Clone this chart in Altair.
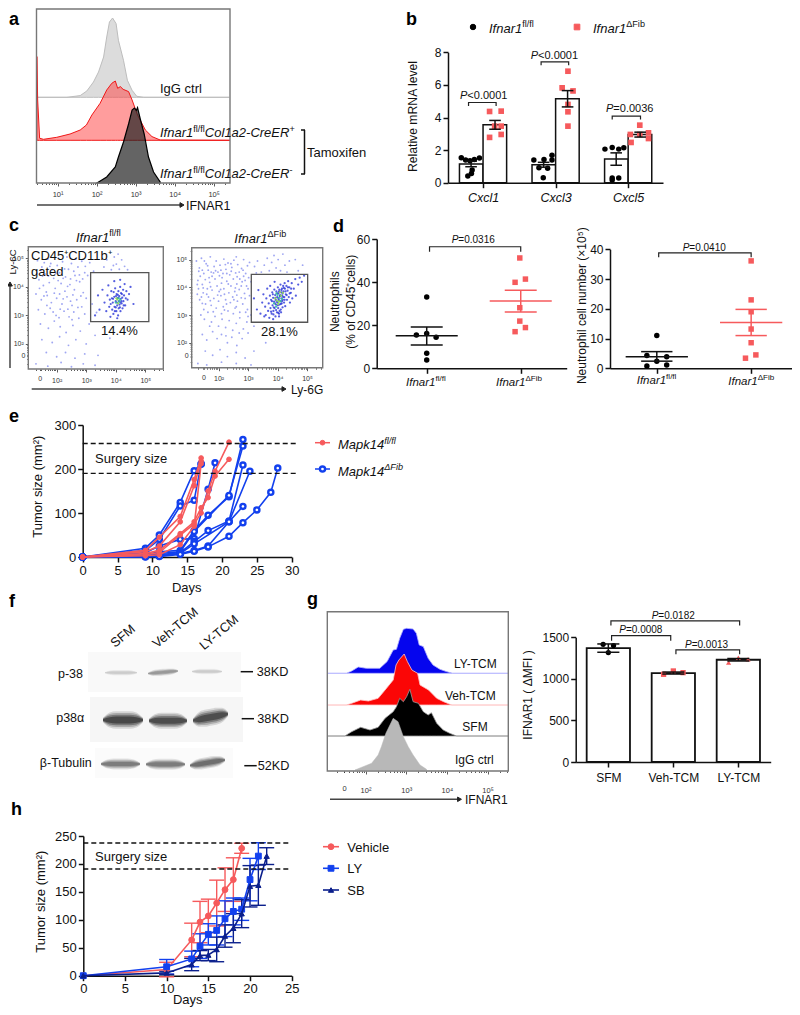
import math
import altair as alt
import pandas as pd

W, H = 784, 999
FONT = "Liberation Sans"
RED = "#f65a5c"
BLUE = "#1240ee"
NAVY = "#0b1f8c"

# ---------- panel a histograms (log10 intensity, height) ----------
A_GRAY_X = [0.46, 1.24, 1.58, 1.75, 1.92, 2.05, 2.18, 2.26, 2.33, 2.41, 2.50, 2.56, 2.69, 2.79, 2.91, 3.03, 3.21, 5.40]
A_GRAY_Y = [0, 0, 1.7, 6.3, 15.3, 25.3, 40.3, 60.3, 75.3, 79.3, 73.7, 57, 37, 17, 7, 1, 0, 0]
A_RED_X = [0.47, 0.49, 0.54, 0.64, 0.98, 1.32, 1.58, 1.74, 1.88, 2.09, 2.26, 2.39, 2.48, 2.54, 2.61, 2.68, 2.82, 2.91, 3.05, 3.25, 3.42, 3.63, 5.42]
A_RED_Y = [83.7, 40.3, 2, 1, 3, 6.3, 10.3, 15.3, 25.3, 37, 50.3, 57, 59.3, 52, 53.7, 51, 48.7, 40.3, 25.3, 10.3, 3.7, 0.3, 0]
A_DARK_X = [2.01, 2.26, 2.48, 2.56, 2.69, 2.82, 2.91, 2.97, 3.02, 3.05, 3.12, 3.22, 3.33, 3.46, 3.63]
A_DARK_Y = [0, 6, 16, 26, 41, 59, 73, 75, 72.7, 75.3, 64, 49, 26, 11, 1]

# ---------- panel b ----------
B_MEANS_FL = [1.15, 1.1, 1.45]
B_MEANS_FIB = [3.55, 5.15, 2.95]
B_ERR_FL = [0.17, 0.15, 0.38]
B_ERR_FIB = [0.27, 0.5, 0.15]
B_FL_X = [0.70, 0.76, 0.82, 0.88, 0.95, 0.85, 0.79, 0.84, 1.70, 1.84, 1.95, 1.95, 1.77, 1.89, 1.83, 2.68, 2.78, 2.87, 2.94, 2.78, 2.87, 2.78]
B_FL_Y = [1.53, 1.39, 1.35, 1.43, 1.51, 0.78, 0.41, 0.57, 1.39, 1.43, 1.69, 1.39, 0.92, 0.88, 0.31, 2.06, 2.16, 2.06, 2.14, 0.29, 0.29, 0.16]
B_FIB_X = [1.09, 1.25, 1.25, 1.16, 1.25, 1.09, 2.17, 2.09, 2.24, 2.17, 2.17, 2.17, 3.03, 3.16, 3.28, 3.28, 3.04, 3.16]
B_FIB_Y = [4.37, 4.39, 3.47, 3.47, 2.96, 2.78, 6.84, 5.82, 5.63, 4.80, 4.35, 3.47, 2.96, 3.53, 3.06, 2.71, 2.47, 2.96]

# ---------- panel c scatter (decades) ----------
C1_BG = [(1.35,4.92),(1.5,4.7),(1.62,4.45),(1.7,4.98),(1.85,4.6),(1.9,4.3),(2.02,4.75),(2.1,4.5),(2.2,4.88),(2.3,4.35),(2.4,4.62),(2.5,4.82),(2.62,4.4),(2.72,4.7),(2.85,4.9),(2.95,4.5),(1.4,4.25),(1.55,4.05),(1.75,4.15),(1.95,3.95),(2.15,4.12),(2.28,3.85),(2.45,4.08),(2.6,3.9),(2.78,4.18),(2.9,3.8),(3.05,4.4),(1.3,3.75),(1.48,3.55),(1.68,3.7),(1.82,3.45),(2.0,3.6),(2.18,3.4),(2.35,3.65),(2.52,3.35),(2.68,3.55),(2.85,3.3),(3.0,3.6),(1.38,3.2),(1.6,3.05),(1.78,3.25),(1.98,3.0),(2.25,3.15),(2.42,2.95),(2.58,3.12),(2.75,2.9),(2.95,3.05),(1.45,2.7),(1.72,2.55),(1.92,2.8),(2.12,2.6),(2.32,2.4),(2.55,2.65),(2.8,2.45),(3.1,2.7),(1.5,2.15),(1.85,2.05),(2.1,2.25),(2.4,1.95),(2.65,2.15),(3.0,2.0),(3.3,2.3),(1.65,1.7),(2.0,1.55),(2.3,1.7),(2.62,1.5),(2.95,1.65),(3.4,1.6),(1.3,1.3),(1.7,1.22),(2.15,1.35),(2.5,1.2),(2.9,1.3),(3.3,1.25),(3.8,2.2),(4.3,2.4),(3.6,4.7),(3.7,4.95),(3.85,4.6),(3.95,5.05),(4.02,4.8),(4.12,4.62),(4.2,4.95),(4.3,4.72),(4.08,5.15),(3.92,4.75),(4.4,4.6),(1.58,4.85),(1.8,4.82),(2.06,5.0),(2.35,5.05),(2.65,4.98),(3.12,4.85),(3.25,4.55),(1.42,3.95),(1.65,3.82),(2.1,3.75),(2.55,3.72),(2.72,3.28),(1.88,3.12),(2.38,3.22),(2.08,2.92),(3.2,3.4),(3.35,3.1),(1.52,4.38),(2.22,4.3),(2.58,4.55),(2.88,4.28),(1.47,4.58),(1.77,4.72),(1.97,4.48),(2.27,4.63),(2.47,4.28),(2.77,4.42),(2.97,4.72),(1.33,4.48),(1.72,4.38),(2.05,4.22),(2.37,4.02),(2.67,4.22),(1.57,3.68),(1.92,3.78),(2.22,3.58),(2.47,3.5),(2.82,3.68),(1.67,3.35),(2.12,3.22),(2.52,2.85)]
C1_GATE = [(3.55,3.9),(3.62,3.45),(3.68,3.15),(3.72,3.7),(3.78,3.3),(3.8,3.55),(3.82,2.95),(3.85,3.85),(3.88,3.2),(3.9,3.45),(3.92,3.05),(3.95,3.65),(3.96,3.3),(3.98,3.95),(4.0,3.5),(4.02,3.15),(4.03,3.75),(4.05,3.35),(4.06,3.6),(4.08,3.0),(4.09,3.85),(4.1,3.25),(4.11,3.5),(4.12,3.68),(4.13,3.38),(4.15,4.0),(4.16,3.15),(4.17,3.58),(4.18,3.78),(4.2,3.42),(4.22,3.62),(4.23,3.25),(4.25,3.9),(4.26,3.5),(4.28,3.7),(4.3,4.1),(4.32,3.35),(4.34,3.6),(4.36,3.85),(4.4,3.55),(4.45,3.75),(4.5,4.0),(3.45,3.2),(3.4,3.7),(3.3,3.0),(4.6,3.4),(4.15,4.25),(3.95,4.2),(4.05,2.9),(3.75,4.05),(3.87,3.6),(3.93,3.82),(3.97,3.15),(4.01,3.68),(4.04,3.45),(4.07,3.72),(4.14,3.28),(4.19,3.5),(4.21,3.75),(4.27,3.35),(3.83,3.4),(3.91,3.58),(4.0,3.28),(4.09,3.62),(4.16,3.45)]
C1_CORE = [(4.0,3.45),(4.05,3.55),(4.1,3.6),(4.08,3.42),(4.15,3.55),(4.02,3.6),(4.12,3.48)]
C2_BG = [(1.25,4.95),(1.35,4.7),(1.42,5.05),(1.5,4.5),(1.58,4.85),(1.65,4.62),(1.72,5.1),(1.78,4.4),(1.85,4.75),(1.92,4.95),(1.98,4.55),(2.05,4.8),(2.12,4.35),(2.18,5.02),(2.25,4.65),(2.32,4.88),(2.38,4.45),(2.45,4.72),(2.52,4.98),(2.58,4.52),(2.65,4.82),(2.72,4.3),(2.78,4.68),(2.85,5.0),(2.92,4.5),(2.98,4.78),(3.05,4.9),(1.3,4.25),(1.38,4.4),(1.45,4.1),(1.55,4.28),(1.62,3.95),(1.7,4.18),(1.78,3.9),(1.88,4.3),(1.95,4.05),(2.02,3.85),(2.1,4.15),(2.18,3.95),(2.28,4.22),(2.35,3.8),(2.42,4.05),(2.5,4.3),(2.55,3.85),(2.62,4.12),(2.7,3.92),(2.8,4.2),(2.88,3.78),(2.95,4.05),(3.02,4.35),(1.28,3.75),(1.36,3.55),(1.48,3.8),(1.56,3.4),(1.66,3.65),(1.75,3.35),(1.84,3.6),(1.92,3.25),(2.0,3.5),(2.08,3.7),(2.16,3.3),(2.24,3.55),(2.32,3.15),(2.4,3.45),(2.48,3.65),(2.56,3.25),(2.64,3.5),(2.72,3.1),(2.82,3.4),(2.9,3.6),(2.98,3.2),(3.05,3.7),(1.4,3.0),(1.52,2.85),(1.64,3.1),(1.76,2.75),(1.88,2.95),(2.0,2.6),(2.12,2.85),(2.24,2.55),(2.36,2.8),(2.48,2.45),(2.6,2.7),(2.72,2.9),(2.84,2.5),(2.96,2.75),(3.1,3.0),(1.45,2.3),(1.6,2.1),(1.8,2.4),(1.95,2.15),(2.1,2.3),(2.3,2.0),(2.45,2.2),(2.62,1.9),(2.8,2.15),(3.0,2.35),(3.2,2.6),(1.55,1.7),(1.8,1.55),(2.05,1.75),(2.3,1.5),(2.6,1.65),(2.9,1.45),(3.2,1.7),(3.6,2.0),(1.3,1.25),(1.6,1.2),(2.1,1.3),(2.6,1.25),(3.1,1.2),(3.45,4.55),(3.55,4.8),(3.65,5.05),(3.72,4.6),(3.8,4.9),(3.88,5.15),(3.95,4.7),(4.02,5.0),(4.1,4.6),(4.18,5.2),(4.25,4.8),(4.32,4.55),(4.4,4.95),(3.22,4.75),(3.32,4.95),(3.28,4.52),(1.52,4.95),(1.75,4.55),(2.08,4.62),(2.28,4.5),(2.6,5.1),(2.9,4.25),(1.32,3.95),(1.6,3.75),(2.2,3.75),(2.62,3.72),(3.0,3.95),(1.5,3.2),(2.1,3.05),(2.5,3.05),(3.0,2.95),(1.7,2.6),(2.25,2.25),(2.7,2.35),(4.7,4.6),(4.85,4.8),(4.6,5.0),(1.45,4.62),(1.9,4.6),(2.42,4.85),(2.7,4.55),(1.68,4.35),(2.15,4.5),(2.85,4.4),(3.1,4.2),(1.33,4.58),(1.63,4.78),(1.83,4.52),(2.03,4.42),(2.23,4.82),(2.43,4.58),(2.63,4.38),(2.83,4.62),(1.28,4.1),(1.48,3.98),(1.73,4.02),(2.07,3.92),(2.33,4.12),(2.57,3.98),(2.77,4.05),(1.42,3.65),(1.72,3.52),(1.97,3.72),(2.27,3.4),(2.52,3.55),(2.77,3.62),(1.45,3.42),(1.82,3.12),(2.2,3.18),(2.6,3.3),(2.92,3.1)]
C2_GATE = [(3.2,3.6),(3.3,3.2),(3.35,3.9),(3.42,3.05),(3.48,3.45),(3.52,3.75),(3.55,2.95),(3.58,3.3),(3.62,3.6),(3.65,3.95),(3.68,3.15),(3.7,3.42),(3.72,2.9),(3.74,3.7),(3.76,3.25),(3.78,3.55),(3.8,3.05),(3.82,3.82),(3.83,3.35),(3.85,3.62),(3.86,3.15),(3.88,3.48),(3.89,3.92),(3.9,3.25),(3.92,3.72),(3.93,2.95),(3.94,3.55),(3.95,3.38),(3.96,3.85),(3.98,3.1),(3.99,3.65),(4.0,3.45),(4.01,4.0),(4.02,3.25),(4.03,3.78),(4.04,3.55),(4.05,3.05),(4.06,3.92),(4.07,3.38),(4.08,3.68),(4.09,3.5),(4.1,4.1),(4.11,3.2),(4.12,3.82),(4.13,3.6),(4.14,3.42),(4.15,3.95),(4.16,3.7),(4.17,3.28),(4.18,3.55),(4.19,4.05),(4.2,3.85),(4.22,3.45),(4.23,3.65),(4.24,4.15),(4.25,3.95),(4.26,3.32),(4.28,3.75),(4.3,4.05),(4.32,3.55),(4.34,3.88),(4.36,4.22),(4.38,3.65),(4.4,4.0),(4.42,3.45),(4.45,3.8),(4.48,4.15),(4.5,3.6),(4.55,3.95),(4.6,4.3),(4.62,3.7),(4.7,4.1),(4.75,4.35),(4.82,4.2),(4.9,4.42),(3.75,4.05),(3.9,4.2),(3.6,3.0),(3.85,2.85),(4.05,2.95),(3.81,3.5),(3.84,3.75),(3.87,3.28),(3.91,3.42),(3.93,3.62),(3.97,3.48),(3.99,3.78),(4.01,3.35),(4.03,3.6),(4.05,3.85),(4.07,3.15),(4.09,3.72),(4.11,3.4),(4.13,3.9),(4.15,3.5),(4.17,3.78),(4.19,3.65),(4.21,3.98),(4.24,3.55),(4.27,3.85),(4.31,3.72),(4.35,4.0),(4.41,3.78),(4.46,3.95),(3.78,3.12),(3.86,3.02),(3.95,3.18),(4.02,3.08),(4.12,3.1)]
C2_CORE = [(3.88,3.42),(3.92,3.6),(3.95,3.3),(3.98,3.52),(4.0,3.72),(4.02,3.4),(4.05,3.62),(4.08,3.82),(4.1,3.5),(4.12,3.7),(4.15,3.58),(4.05,3.48),(3.96,3.78),(4.18,3.8)]

# ---------- panel d ----------
D1_FL_X = [1.0, 0.89, 1.0, 1.10, 1.0, 1.0]
D1_FL_Y = [33.1, 15.5, 16.2, 14.4, 7.0, 3.9]
D1_FIB_X = [1.99, 1.94, 2.05, 1.99, 1.99, 2.05, 1.94]
D1_FIB_Y = [51.2, 39.9, 41.4, 28.1, 21.9, 18.9, 17.0]
D2_FL_X = [1.0, 0.895, 1.105, 1.0, 0.895, 1.105]
D2_FL_Y = [11, 4.3, 3.9, 2.4, 0.8, 1.1]
D2_FIB_X = [2.0, 2.0, 2.0, 2.0, 2.0, 2.05, 1.94]
D2_FIB_Y = [36.1, 23, 19, 13.2, 8.6, 4.5, 3.4]

# ---------- panel e ----------
E_RED = [
    ([0, 9, 11, 14, 16, 17], [0, 15, 45, 92, 176, 225]),
    ([0, 9, 11, 14, 16, 17], [0, 12, 25, 80, 162, 218]),
    ([0, 9, 11, 14, 16, 17, 18, 19, 21], [0, 8, 15, 53, 80, 112, 135, 184, 222]),
    ([0, 9, 11, 14, 16, 17, 18, 19, 21], [0, 5, 10, 50, 75, 100, 150, 195, 261]),
    ([0, 9, 11, 14, 16, 17], [0, 3, 5, 28, 70, 212]),
]
E_BLUE = [
    ([0, 9, 11, 14, 16, 17], [0, 20, 50, 124, 196, 212]),
    ([0, 9, 11, 14, 16, 17], [0, 15, 40, 116, 129, 211]),
    ([0, 9, 11, 14, 16, 18, 19], [0, 10, 25, 40, 42, 154, 214]),
    ([0, 9, 11, 14, 16, 18, 21, 23], [0, 5, 12, 15, 60, 95, 137, 267]),
    ([0, 9, 11, 14, 16, 21, 23], [0, 3, 8, 12, 58, 140, 252]),
    ([0, 9, 11, 14, 16, 18, 21, 23], [0, 2, 5, 10, 35, 60, 82, 209]),
    ([0, 9, 11, 14, 16, 21, 24], [0, 1, 3, 8, 30, 80, 195]),
    ([0, 9, 11, 14, 16, 18, 21, 23], [0, 1, 2, 8, 15, 25, 80, 115]),
    ([0, 9, 11, 14, 16, 18, 21, 23, 25, 27, 28], [0, 0, 1, 6, 13, 23, 47, 78, 107, 147, 202]),
]

# ---------- panel g ----------
G_BLUE_X = [1.06, 1.53, 1.66, 1.82, 2.02, 2.35, 2.53, 2.68, 2.76, 2.84, 2.93, 3.01, 3.17, 3.25, 3.32, 3.42, 3.54, 3.66, 3.83, 3.99, 4.14, 5.51]
G_BLUE_Y = [0, 0, 2.3, 6.3, 5, 5, 11.7, 23.3, 24, 35, 44, 45, 44.3, 40, 28.3, 26.7, 15, 8.3, 4, 1.7, 0, 0]
G_RED_X = [1.06, 1.53, 1.70, 1.88, 2.07, 2.31, 2.48, 2.68, 2.75, 2.82, 2.95, 3.03, 3.14, 3.28, 3.34, 3.55, 3.75, 3.92, 4.12, 5.51]
G_RED_Y = [0, 0, 2.3, 5, 4, 6.7, 15, 25, 40, 45, 51, 43.3, 35, 31.7, 20, 15, 6.7, 3.3, 0, 0]
G_BLACK_X = [1.06, 1.49, 1.66, 1.88, 2.11, 2.31, 2.48, 2.68, 2.76, 2.84, 2.93, 3.01, 3.09, 3.17, 3.30, 3.42, 3.54, 3.62, 3.75, 3.91, 4.07, 4.24, 5.51]
G_BLACK_Y = [0, 0, 4.3, 8.7, 6, 8.7, 17.7, 24.3, 29.3, 37.7, 34.3, 39.3, 46.7, 34.3, 32.7, 24.3, 21, 23.3, 12.7, 6, 2.7, 0, 0]
G_GRAY_X = [1.74, 1.94, 2.15, 2.31, 2.39, 2.50, 2.68, 2.80, 2.93, 3.05, 3.17, 3.34, 3.50]
G_GRAY_Y = [0, 3.3, 6.7, 15, 23.3, 36.7, 51.7, 48.3, 33.3, 23.3, 15, 5, 0.7]
G_BAR = [1370, 1070, 1230]
G_ERR = [50, 12, 15]
G_SFM_X, G_SFM_Y = [0.92, 1.08, 1.0], [1416, 1400, 1316]
G_VEH_X, G_VEH_Y = [1.85, 2.0, 2.15], [1055, 1095, 1075]
G_LY_X, G_LY_Y = [2.85, 3.0, 3.15], [1195, 1255, 1235]

# ---------- panel h ----------
H_VEH_D = [0, 10, 13, 14, 15, 16, 17, 18, 19]
H_VEH_V = [0, 11, 64, 96, 107, 130, 154, 172, 228]
H_VEH_E = [0, 13, 30, 37, 30, 41, 39, 39, 9]
H_LY_D = [0, 10, 13, 14, 15, 16, 17, 18, 19, 20, 21]
H_LY_V = [0, 16, 30, 53, 74, 81, 102, 115, 119, 172, 214]
H_LY_E = [0, 13, 14, 22, 19, 26, 32, 24, 20, 38, 24]
H_SB_D = [0, 10, 13, 14, 15, 16, 17, 18, 19, 20, 21, 22]
H_SB_V = [0, 5, 20, 36, 37, 47, 71, 85, 111, 160, 162, 214]
H_SB_E = [0, 3, 11, 9, 10, 22, 20, 26, 25, 37, 36, 15]

layers = []
ONE = pd.DataFrame([{"k": 0}])
CW = {" ": .278, "I": .278, "f": .278, "n": .556, "a": .556, "r": .333, "l": .222, "/": .278, "1": .556, "C": .722, "o": .556,
      "2": .556, "-": .333, "e": .556, "E": .667, "R": .722, "+": .584, "M": .833, "p": .556, "k": .5, "4": .556, "P": .667,
      "<": .584, "=": .584, "0": .556, ".": .278, "i": .222, "b": .556, "D": .722, "F": .611, "Δ": .612}


class P:
    def __init__(s, xdom, xpx, ydom, ypx):
        s.xdom, s.xpx, s.ydom, s.ypx = list(xdom), xpx, list(ydom), ypx


def X(p, f, axis=None):
    return alt.X(f, type="quantitative", title=None, axis=axis,
                 scale=alt.Scale(domain=p.xdom, range=[p.xpx[0] - 8, p.xpx[1] - 8], nice=False, zero=False))


def Y(p, f, axis=None):
    return alt.Y(f, type="quantitative", title=None, axis=axis,
                 scale=alt.Scale(domain=p.ydom, range=[p.ypx[0] - 8, p.ypx[1] - 8], nice=False, zero=False))


def txt(x, y, s, size=12, angle=0, align="left", baseline="alphabetic", style="normal", weight="normal", color="#111"):
    kw = {"angle": angle} if angle else {}
    layers.append(alt.Chart(ONE).mark_text(text=s, font=FONT, fontSize=size, align=align, baseline=baseline,
                                           fontStyle=style, fontWeight=weight, color=color, **kw)
                  .encode(x=alt.value(x - 8), y=alt.value(y - 8)))


def rich(x, y, segs, size=13):
    """segs: (text, kind) with kind n, i, sn (superscript), si (superscript italic)"""
    for s, kind in segs:
        sup = kind.startswith("s")
        fs = size * 0.7 if sup else size
        txt(x, y - (0.42 * size if sup else 0), s, size=fs, style="italic" if kind.endswith("i") else "normal")
        x += sum(CW.get(c, .556) for c in s) * fs


def pval(x, y, rest, size=10):
    rich(x, y, [("P", "i"), (rest, "n")], size)


def hrule(x0, x1, y, color="#111", w=1.5, dash=None):
    kw = {"strokeDash": dash} if dash else {}
    layers.append(alt.Chart(ONE).mark_rule(color=color, strokeWidth=w, **kw)
                  .encode(x=alt.value(x0 - 8), x2=alt.value(x1 - 8), y=alt.value(y - 8)))


def vrule(x, y0, y1, color="#111", w=1.5):
    layers.append(alt.Chart(ONE).mark_rule(color=color, strokeWidth=w)
                  .encode(x=alt.value(x - 8), y=alt.value(y0 - 8), y2=alt.value(y1 - 8)))


def glyph(x, y, shape, size, fill, stroke=None, sw=1.0, angle=0):
    kw = {"angle": angle} if angle else {}
    layers.append(alt.Chart(ONE).mark_point(shape=shape, size=size, filled=True, fill=fill, stroke=stroke or fill,
                                            strokeWidth=sw, opacity=1, **kw)
                  .encode(x=alt.value(x - 8), y=alt.value(y - 8)))


def axes(p, xa, ya):
    df = pd.DataFrame({"x": [p.xdom[0]], "y": [p.ydom[0]]})
    layers.append(alt.Chart(df).mark_point(opacity=0).encode(x=X(p, "x", xa), y=Y(p, "y", ya)))


def std_x(p, values, expr=None, size=12, style="normal", labels=True, tick=5, pad=2):
    kw = dict(orient="bottom", values=values, domainColor="#111", domainWidth=1.5, tickColor="#111", tickWidth=1.5, tickSize=tick,
              labelFontSize=size, labelFont=FONT, labelColor="#111", labelFontStyle=style, labelPadding=pad,
              labels=labels, grid=False, labelOverlap=False, labelFlush=False, offset=(p.ypx[0] - 8) - H, format="d")
    if expr:
        kw["labelExpr"] = expr
    return alt.Axis(**kw)


def std_y(p, values, size=12, tick=5, pad=2):
    return alt.Axis(orient="left", values=values, domainColor="#111", domainWidth=1.5, tickColor="#111", tickWidth=1.5, tickSize=tick,
                    labelFontSize=size, labelFont=FONT, labelColor="#111", labelPadding=pad, grid=False,
                    labelOverlap=False, labelFlush=False, offset=-(p.xpx[0] - 8), format="d")


SUP = {1: "10¹", 2: "10²", 3: "10³", 4: "10⁴", 5: "10⁵"}


def flow_vals(p_dom, decades, zero=None):
    vals = []
    for d in range(0, 7):
        for k in range(1, 10):
            v = round(d + math.log10(k), 3)
            if p_dom[0] <= v <= p_dom[1]:
                vals.append(v)
    if zero is not None:
        vals.append(zero)
    return vals


def flow_axis(p, horizontal, decades, zero=None, size=7.5, pad=3):
    dom = p.xdom if horizontal else p.ydom
    expr = "''"
    for d in decades:
        expr = f"datum.value=={d}?'{SUP[d]}':" + expr
    if zero is not None:
        expr = f"datum.value=={zero}?'0':" + expr
    kw = dict(orient="bottom" if horizontal else "left", values=flow_vals(dom, decades, zero), domain=False, tickColor="#333", tickWidth=0.8,
              tickSize={"condition": {"test": "datum.value==round(datum.value)", "value": 3}, "value": 1.5},
              labelFontSize=size, labelFont=FONT, labelColor="#333", labelPadding=pad, grid=False,
              labelOverlap=False, labelFlush=False, labelExpr=expr,
              offset=((p.ypx[0] - 8) - H) if horizontal else -(p.xpx[0] - 8))
    return alt.Axis(**kw)


def frame(p, color="#777", w=1.4):
    df = pd.DataFrame({"a": [p.xdom[0]], "b": [p.xdom[1]], "c": [p.ydom[0]], "d": [p.ydom[1]]})
    layers.append(alt.Chart(df).mark_rect(fill="transparent", stroke=color, strokeWidth=w)
                  .encode(x=X(p, "a"), x2="b", y=Y(p, "c"), y2="d"))


def box(p, x0, x1, y0, y1, color="#555", w=1.2, fill="transparent"):
    df = pd.DataFrame({"a": [x0], "b": [x1], "c": [y0], "d": [y1]})
    layers.append(alt.Chart(df).mark_rect(fill=fill, stroke=color, strokeWidth=w)
                  .encode(x=X(p, "a"), x2="b", y=Y(p, "c"), y2="d"))


def hist(p, xs, ys, base, fill, stroke, opacity=1.0, sw=1.0):
    df = pd.DataFrame({"x": xs, "t": [base + v for v in ys], "b": [base] * len(xs)})
    layers.append(alt.Chart(df).mark_area(color=fill, fillOpacity=opacity, stroke=stroke, strokeWidth=sw)
                  .encode(x=X(p, "x"), y=Y(p, "t"), y2="b"))


def pts(p, xs, ys, shape, size, color, opacity=1.0):
    df = pd.DataFrame({"x": xs, "y": ys})
    layers.append(alt.Chart(df).mark_point(shape=shape, size=size, filled=True, color=color, opacity=opacity)
                  .encode(x=X(p, "x"), y=Y(p, "y")))


def seg(p, x0, x1, y0, y1, color="#111", w=1.5, dash=None):
    df = pd.DataFrame({"a": [x0], "b": [x1], "c": [y0], "d": [y1]})
    kw = {"strokeDash": dash} if dash else {}
    layers.append(alt.Chart(df).mark_rule(color=color, strokeWidth=w, **kw)
                  .encode(x=X(p, "a"), x2="b", y=Y(p, "c"), y2="d"))


def bracket(p, x0, x1, lo, hi, lo2=None):
    df = pd.DataFrame({"x": [x0, x0, x1, x1], "y": [lo, hi, hi, lo if lo2 is None else lo2], "i": [0, 1, 2, 3]})
    layers.append(alt.Chart(df).mark_line(color="#222", strokeWidth=1.2)
                  .encode(x=X(p, "x"), y=Y(p, "y"), order="i"))


def err(p, x, lo, hi, half, color="#111", w=1.5):
    seg(p, x, x, lo, hi, color, w)
    seg(p, x - half, x + half, lo, lo, color, w)
    seg(p, x - half, x + half, hi, hi, color, w)


def bar(p, x0, x1, v, w=1.5):
    box(p, x0, x1, 0, v, color="#111", w=w, fill="white")


def series(p, xs, ys, color, w, shape, size, fill=None, sw=1.0):
    df = pd.DataFrame({"x": xs, "y": ys})
    layers.append(alt.Chart(df).mark_line(color=color, strokeWidth=w).encode(x=X(p, "x"), y=Y(p, "y")))
    layers.append(alt.Chart(df).mark_point(shape=shape, size=size, filled=True, fill=fill or color, stroke=color,
                                           strokeWidth=sw, opacity=1).encode(x=X(p, "x"), y=Y(p, "y")))


# ================= panel letters =================
for (lx, ly, s) in [(9, 25, "a"), (406, 25, "b"), (9, 231, "c"), (333, 231.7, "d"), (9, 422, "e"), (9, 607, "f"), (307, 605, "g"), (11, 815, "h")]:
    txt(lx, ly, s, size=18, weight="bold", color="#000")

# ================= a =================
pa = P((0.46, 5.42), (36.5, 230), (0, 174), (183, 9))
axes(pa, flow_axis(pa, True, [1, 2, 3, 4, 5], size=7.5, pad=4), None)
hist(pa, A_GRAY_X, A_GRAY_Y, 85.7, "#dcdcdc", "#bdbdbd")
hist(pa, A_RED_X, A_RED_Y, 42.7, "#ff3b3b", "#f01818", opacity=0.5)
hist(pa, A_DARK_X, A_DARK_Y, 0, "#222222", "#000000", opacity=0.7, sw=1.2)
frame(pa)
txt(160, 93, "IgG ctrl", 13)
rich(160, 137, [("Ifnar1", "i"), ("fl/fl", "sn"), ("Col1a2-CreER", "i"), ("+", "sn")], 13)
rich(160, 178, [("Ifnar1", "i"), ("fl/fl", "sn"), ("Col1a2-CreER", "i"), ("-", "sn")], 13)
hrule(301, 305, 130)
hrule(301, 305, 174)
vrule(304.5, 130, 174)
txt(307, 157, "Tamoxifen", 13)
hrule(37, 181, 205, color="#444")
glyph(182, 205, "triangle-right", 22, "#222")
txt(186, 209.5, "IFNAR1", 12.5)

# ================= b =================
pb = P((0.517, 3.48), (448, 663), (0, 8), (182.7, 52.3))
axes(pb, std_x(pb, [1, 2, 3], "['','Cxcl1','Cxcl3','Cxcl5'][datum.value]", size=12.5, style="italic", pad=4), std_y(pb, [0, 2, 4, 6, 8]))
for i in range(3):
    c = i + 1
    bar(pb, c - 0.325, c, B_MEANS_FL[i])
    bar(pb, c, c + 0.325, B_MEANS_FIB[i])
pts(pb, B_FL_X, B_FL_Y, "circle", 30, "#000")
pts(pb, B_FIB_X, B_FIB_Y, "square", 32, RED)
for i in range(3):
    c = i + 1
    err(pb, c - 0.165, B_MEANS_FL[i] - B_ERR_FL[i], B_MEANS_FL[i] + B_ERR_FL[i], 0.08)
    err(pb, c + 0.165, B_MEANS_FIB[i] - B_ERR_FIB[i], B_MEANS_FIB[i] + B_ERR_FIB[i], 0.08)
bracket(pb, 0.80, 1.18, 4.71, 4.92)
bracket(pb, 1.80, 2.18, 7.20, 7.41)
bracket(pb, 2.78, 3.17, 3.88, 4.08)
pval(460, 99, "<0.0001", 11)
pval(530.7, 59, "<0.0001", 11)
pval(606, 112.3, "=0.0036", 11)
glyph(473, 27, "circle", 30, "#000")
glyph(577, 27, "square", 32, RED)
rich(489, 32.7, [("Ifnar1", "i"), ("fl/fl", "sn")], 13)
rich(593, 32.7, [("Ifnar1", "i"), ("ΔFib", "sn")], 13)
txt(413, 116.5, "Relative mRNA level", 12.2, angle=270, align="center", baseline="middle")

# ================= c =================
pc1 = P((1.04, 5.61), (28.3, 163.3), (1.12, 5.41), (369, 246.7))
pc2 = P((1.09, 5.53), (191.7, 322.7), (1.10, 5.43), (367.7, 247.7))
for p, bg, gate, core, zx, zy, gb in [
    (pc1, C1_BG, C1_GATE, C1_CORE, 1.43, 1.58, (3.15, 5.12, 2.78, 4.50)),
    (pc2, C2_BG, C2_GATE, C2_CORE, 1.49, 1.53, (3.11, 5.02, 2.74, 4.47)),
]:
    axes(p, flow_axis(p, True, [2, 3, 4, 5], zx, size=7, pad=4), flow_axis(p, False, [2, 3, 4, 5], zy, size=7, pad=2))
    pts(p, [a for a, b in bg], [b for a, b in bg], "circle", 3.5, "#7f88ee", 0.75)
    pts(p, [a for a, b in gate], [b for a, b in gate], "circle", 5, "#2a36d8", 0.8)
    pts(p, [a for a, b in core[::2]], [b for a, b in core[::2]], "circle", 5, "#36c49a", 0.9)
    pts(p, [a for a, b in core[1::2]], [b for a, b in core[1::2]], "circle", 5, "#8fdc50", 0.9)
    frame(p)
    box(p, gb[0], gb[1], gb[2], gb[3], color="#555", w=1.3)
rich(76, 241.7, [("Ifnar1", "i"), ("fl/fl", "sn")], 13)
rich(234.3, 242.7, [("Ifnar1", "i"), ("ΔFib", "sn")], 13)
txt(31, 260, "CD45⁺CD11b⁺", 13)
txt(31, 275.7, "gated", 13)
txt(101, 335, "14.4%", 13)
txt(261, 336, "28.1%", 13)
vrule(10, 368, 285, color="#444")
glyph(10, 284, "triangle-up", 22, "#222")
txt(13, 262, "Ly-6C", 9.5, angle=270, align="center", baseline="middle")
hrule(31.7, 283, 389, color="#444")
glyph(284, 389, "triangle-right", 22, "#222")
txt(291, 394, "Ly-6G", 12)

# ================= d =================
pd1 = P((0.468, 2.489), (376.7, 566.7), (0, 60), (368.3, 239))
axes(pd1, std_x(pd1, [1, 2], labels=False), std_y(pd1, [0, 20, 40, 60]))
pts(pd1, D1_FL_X, D1_FL_Y, "circle", 30, "#000")
pts(pd1, D1_FIB_X, D1_FIB_Y, "square", 30, RED)
seg(pd1, 0.67, 1.33, 15.1, 15.1)
err(pd1, 1, 10.8, 19.2, 0.17)
seg(pd1, 1.67, 2.33, 31.2, 31.2, RED)
err(pd1, 2, 26.1, 36.2, 0.17, RED)
bracket(pd1, 1.03, 2, 54.1, 56.4)
pval(451.7, 243.3, "=0.0316", 10)
rich(406, 386, [("Ifnar1", "i"), ("fl/fl", "sn")], 11.5)
rich(496, 385.5, [("Ifnar1", "i"), ("ΔFib", "sn")], 11.5)
txt(335, 301.7, "Neutrophils", 12, angle=270, align="center", baseline="middle")
txt(351, 301.7, "(% of CD45⁺cells)", 12, angle=270, align="center", baseline="middle")

pd2 = P((0.504, 2.433), (610, 792), (0, 40), (368.3, 249.3))
axes(pd2, std_x(pd2, [1, 2], labels=False), std_y(pd2, [0, 10, 20, 30, 40]))
pts(pd2, D2_FL_X, D2_FL_Y, "circle", 30, "#000")
pts(pd2, D2_FIB_X, D2_FIB_Y, "square", 30, RED)
seg(pd2, 0.67, 1.33, 3.9, 3.9)
err(pd2, 1, 2.4, 5.6, 0.166)
seg(pd2, 1.67, 2.33, 15.4, 15.4, RED)
err(pd2, 2, 11, 19.8, 0.166, RED)
bracket(pd2, 1.02, 2, 37.3, 38.8)
pval(682.7, 251, "=0.0410", 10)
rich(636.7, 384.3, [("Ifnar1", "i"), ("fl/fl", "sn")], 11.5)
rich(728.3, 385, [("Ifnar1", "i"), ("ΔFib", "sn")], 11.5)
txt(581.7, 305.7, "Neutrophil cell number (×10⁵)", 12, angle=270, align="center", baseline="middle")

# ================= e =================
pe = P((0, 30), (82.7, 291.7), (0, 300), (557, 425))
axes(pe, std_x(pe, [0, 5, 10, 15, 20, 25, 30], size=13), std_y(pe, [0, 100, 200, 300], size=13))
for xs, ys in E_BLUE:
    series(pe, xs, ys, BLUE, 1.6, "circle", 26, fill="white", sw=2.4)
for xs, ys in E_RED:
    series(pe, xs, ys, RED, 1.6, "circle", 22)
seg(pe, 0, 31, 258, 258, "#111", 1.4, [5, 3])
seg(pe, 0, 31, 190, 190, "#111", 1.4, [5, 3])
txt(95, 463.3, "Surgery size", 13)
txt(38, 486.7, "Tumor size (mm²)", 13, angle=270, align="center", baseline="middle")
txt(186.7, 592, "Days", 13, align="center")
hrule(315, 330, 442.7, color=RED)
glyph(322.5, 442.7, "circle", 22, RED)
rich(338, 449.3, [("Mapk14", "i"), ("fl/fl", "si")], 13)
hrule(315, 330, 469, color=BLUE)
glyph(322.5, 469, "circle", 26, "white", BLUE, 2.4)
rich(338, 475.5, [("Mapk14", "i"), ("ΔFib", "si")], 13)

# ================= f (blot) =================
pf = P((0, 300), (0, 300), (590, 800), (590, 800))
for a, b, c, d, col in [(88, 241, 652, 692, "#f9f9f9"), (90, 243, 697, 742, "#f6f6f6"), (95, 233, 748, 778, "#fbfbfb")]:
    box(pf, a, b, c, d, color=col, w=0, fill=col)


def band(x0, x1, c0, c1, half, color):
    n = 7
    xs = [x0 + (x1 - x0) * i / (n - 1) for i in range(n)]
    cs = [c0 + (c1 - c0) * i / (n - 1) for i in range(n)]
    shape = [0.25, 0.85, 1, 1, 1, 0.85, 0.25]
    for f, op in [(1.7, 0.16), (1.35, 0.25), (1.0, 0.4), (0.65, 0.6)]:
        df = pd.DataFrame({"x": xs, "t": [c - half * s * f for c, s in zip(cs, shape)], "b": [c + half * s * f for c, s in zip(cs, shape)]})
        layers.append(alt.Chart(df).mark_area(color=color, opacity=op, interpolate="monotone")
                      .encode(x=X(pf, "x"), y=Y(pf, "t"), y2="b"))


band(105, 137, 672.7, 672.7, 1.6, "#c4c4c4")
band(148, 178, 673.5, 671, 2, "#888888")
band(192, 222, 671.5, 671.5, 1.6, "#c4c4c4")
band(103, 143, 720, 720, 5.2, "#2a2a2a")
band(149, 187, 720.7, 720.7, 4.7, "#2f2f2f")
band(193, 228, 720.5, 714, 5, "#2f2f2f")
band(101, 140, 764, 764, 3.2, "#666666")
band(146, 185, 764.3, 764.3, 3.2, "#666666")
band(190, 225, 765.5, 760, 3.4, "#555555")
txt(115, 648, "SFM", 13, angle=320)
txt(157, 648.5, "Veh-TCM", 13, angle=320)
txt(204, 650.5, "LY-TCM", 13, angle=320)
txt(83, 678.3, "p-38", 12.5, align="right")
txt(84.3, 722.3, "p38α", 12.5, align="right")
txt(91.7, 766.7, "β-Tubulin", 12.5, align="right")
hrule(240.7, 253, 671.7)
txt(256.7, 676, "38KD", 12.7)
hrule(241.7, 254, 718.7)
txt(257.3, 723.3, "38KD", 12.7)
hrule(244.3, 256.7, 765.7)
txt(257.7, 770.3, "52KD", 12.7)

# ================= g flow =================
pg = P((1.06, 5.51), (327.3, 508.3), (0, 159.3), (771, 611.7))
axes(pg, flow_axis(pg, True, [2, 3, 4, 5], 1.47, size=7.5, pad=12), None)
hist(pg, G_BLUE_X, G_BLUE_Y, 97.7, "#0505ee", "#b8b8ff", sw=0.8)
hist(pg, G_RED_X, G_RED_Y, 66, "#fb0606", "#ffc6c6", sw=0.8)
hist(pg, G_BLACK_X, G_BLACK_Y, 35, "#000000", "#9a9a9a", sw=0.8)
hist(pg, G_GRAY_X, G_GRAY_Y, 1, "#b8b8b8", "#b8b8b8", sw=0.5)
frame(pg)
txt(454, 667.7, "LY-TCM", 12)
txt(445, 700, "Veh-TCM", 12)
txt(462.3, 731.3, "SFM", 12)
txt(455, 764, "IgG ctrl", 12)
hrule(330, 459, 799.3, color="#444")
glyph(459.5, 799.3, "triangle-right", 20, "#222")
txt(465, 803.5, "IFNAR1", 12)

# ================= g bars =================
pg2 = P((0.498, 3.498), (575.7, 770.7), (0, 1500), (762, 637.3))
axes(pg2, std_x(pg2, [1, 2, 3], "['','SFM','Veh-TCM','LY-TCM'][datum.value]", size=12, pad=5), std_y(pg2, [0, 500, 1000, 1500]))
for i in range(3):
    bar(pg2, i + 1 - 0.333, i + 1 + 0.333, G_BAR[i], w=1.8)
pts(pg2, G_SFM_X, G_SFM_Y, "circle", 28, "#000")
pts(pg2, G_VEH_X, G_VEH_Y, "square", 28, RED)
pts(pg2, G_LY_X, G_LY_Y, "triangle-up", 26, RED)
for i in range(3):
    err(pg2, i + 1, G_BAR[i] - G_ERR[i], G_BAR[i] + G_ERR[i], 0.17, "#111", 1.5)
bracket(pg2, 1.04, 3.02, 1641, 1697)
bracket(pg2, 1.05, 1.96, 1460, 1520)
bracket(pg2, 2.04, 3.02, 1296, 1348)
pval(651.7, 619.3, "=0.0182", 10)
pval(619.3, 633.3, "=0.0008", 10)
pval(685, 647.7, "=0.0013", 10)
txt(528, 695, "IFNAR1 ( ΔMFI )", 12, angle=270, align="center", baseline="middle")

# ================= h =================
ph = P((0, 25), (83.3, 291.7), (0, 250), (975.7, 836))
axes(ph, std_x(ph, [0, 5, 10, 15, 20, 25], size=13), std_y(ph, [0, 50, 100, 150, 200, 250], size=13))
for days, vals, errs, col in [(H_VEH_D, H_VEH_V, H_VEH_E, RED), (H_LY_D, H_LY_V, H_LY_E, BLUE), (H_SB_D, H_SB_V, H_SB_E, NAVY)]:
    for d, v, e in zip(days, vals, errs):
        if e:
            err(ph, d, v - e, v + e, 0.9, col, 1.4)
series(ph, H_VEH_D, H_VEH_V, RED, 1.6, "circle", 34)
series(ph, H_LY_D, H_LY_V, BLUE, 1.6, "square", 34)
series(ph, H_SB_D, H_SB_V, NAVY, 1.6, "triangle-up", 28)
seg(ph, 0, 24.6, 237.5, 237.5, "#111", 1.4, [5, 3])
seg(ph, 0, 24.6, 191, 191, "#111", 1.4, [5, 3])
txt(95, 860.7, "Surgery size", 13)
txt(40.7, 901.7, "Tumor size (mm²)", 13, angle=270, align="center", baseline="middle")
txt(187.7, 1004, "Days", 13, align="center")
for yy, col, shape, lab, sz in [(846.7, RED, "circle", "Vehicle", 34), (868.3, BLUE, "square", "LY", 34), (890, NAVY, "triangle-up", "SB", 28)]:
    hrule(323, 339, yy, color=col, w=1.6)
    glyph(331, yy, shape, sz, col)
    txt(347.3, yy + 5, lab, 13)

chart = alt.layer(*layers).resolve_scale(x="independent", y="independent").properties(
    width=W, height=H, padding=0, autosize=alt.AutoSizeParams(type="none"), background="white"
).configure_view(stroke=None)
chart.save("out.html", embed_options={"renderer": "svg", "actions": False})
